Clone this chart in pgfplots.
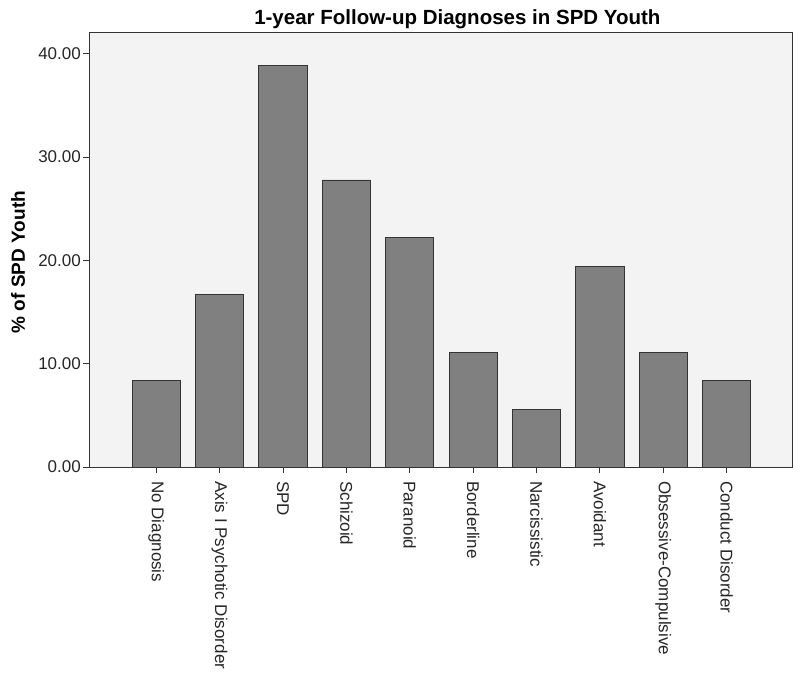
\documentclass[border=0pt]{standalone}
\usepackage{fontspec}
\setmainfont{Liberation Sans}
\usepackage{pgfplots}
\pgfplotsset{compat=1.18}
\definecolor{bg}{HTML}{F3F3F3}
\definecolor{barc}{HTML}{808080}
\definecolor{edge}{HTML}{333333}
\begin{document}
\begin{tikzpicture}
\useasboundingbox (-89bp,-211bp) rectangle (711bp,467bp);
\begin{axis}[
  scale only axis, width=703bp, height=435bp,
  xmin=-1.06, xmax=10.03, ymin=0, ymax=42.1,
  axis background/.style={fill=bg},
  axis line style={edge, line width=0.9pt},
  ybar, bar width=0.76,
  xtick={0,1,2,3,4,5,6,7,8,9},
  xticklabels={No Diagnosis, Axis I Psychotic Disorder, SPD, Schizoid, Paranoid, Borderline, Narcissistic, Avoidant, Obsessive-Compulsive, Conduct Disorder},
  ytick={0,10,20,30,40},
  yticklabel style={/pgf/number format/fixed, /pgf/number format/fixed zerofill, /pgf/number format/precision=2, /pgf/number format/assume math mode=true, inner sep=2pt},
  tick align=outside, major tick length=6bp,
  tick style={edge, line width=0.9pt},
  xtick pos=bottom, ytick pos=left,
  ticklabel style={font=\fontsize{17bp}{20bp}\selectfont, text=black!85},
  xticklabel style={yshift=-8bp, rotate=-90, anchor=west, inner sep=0pt},
  title={1-year Follow-up Diagnoses in SPD Youth},
  title style={font=\bfseries\fontsize{20.5bp}{24bp}\selectfont, at={(axis description cs:0.524,1)}, anchor=base, yshift=2bp},
  ylabel={\% of SPD Youth},
  every axis y label/.style={at={(axis description cs:0,0.471)}, xshift=-71bp, rotate=90, anchor=center, font=\bfseries\fontsize{19bp}{22bp}\selectfont},
]
\addplot[fill=barc, draw=edge, line width=0.9pt] coordinates {
  (0,8.33) (1,16.67) (2,38.89) (3,27.78) (4,22.22) (5,11.11) (6,5.56) (7,19.44) (8,11.11) (9,8.33)
};
\end{axis}
\end{tikzpicture}
\end{document}
